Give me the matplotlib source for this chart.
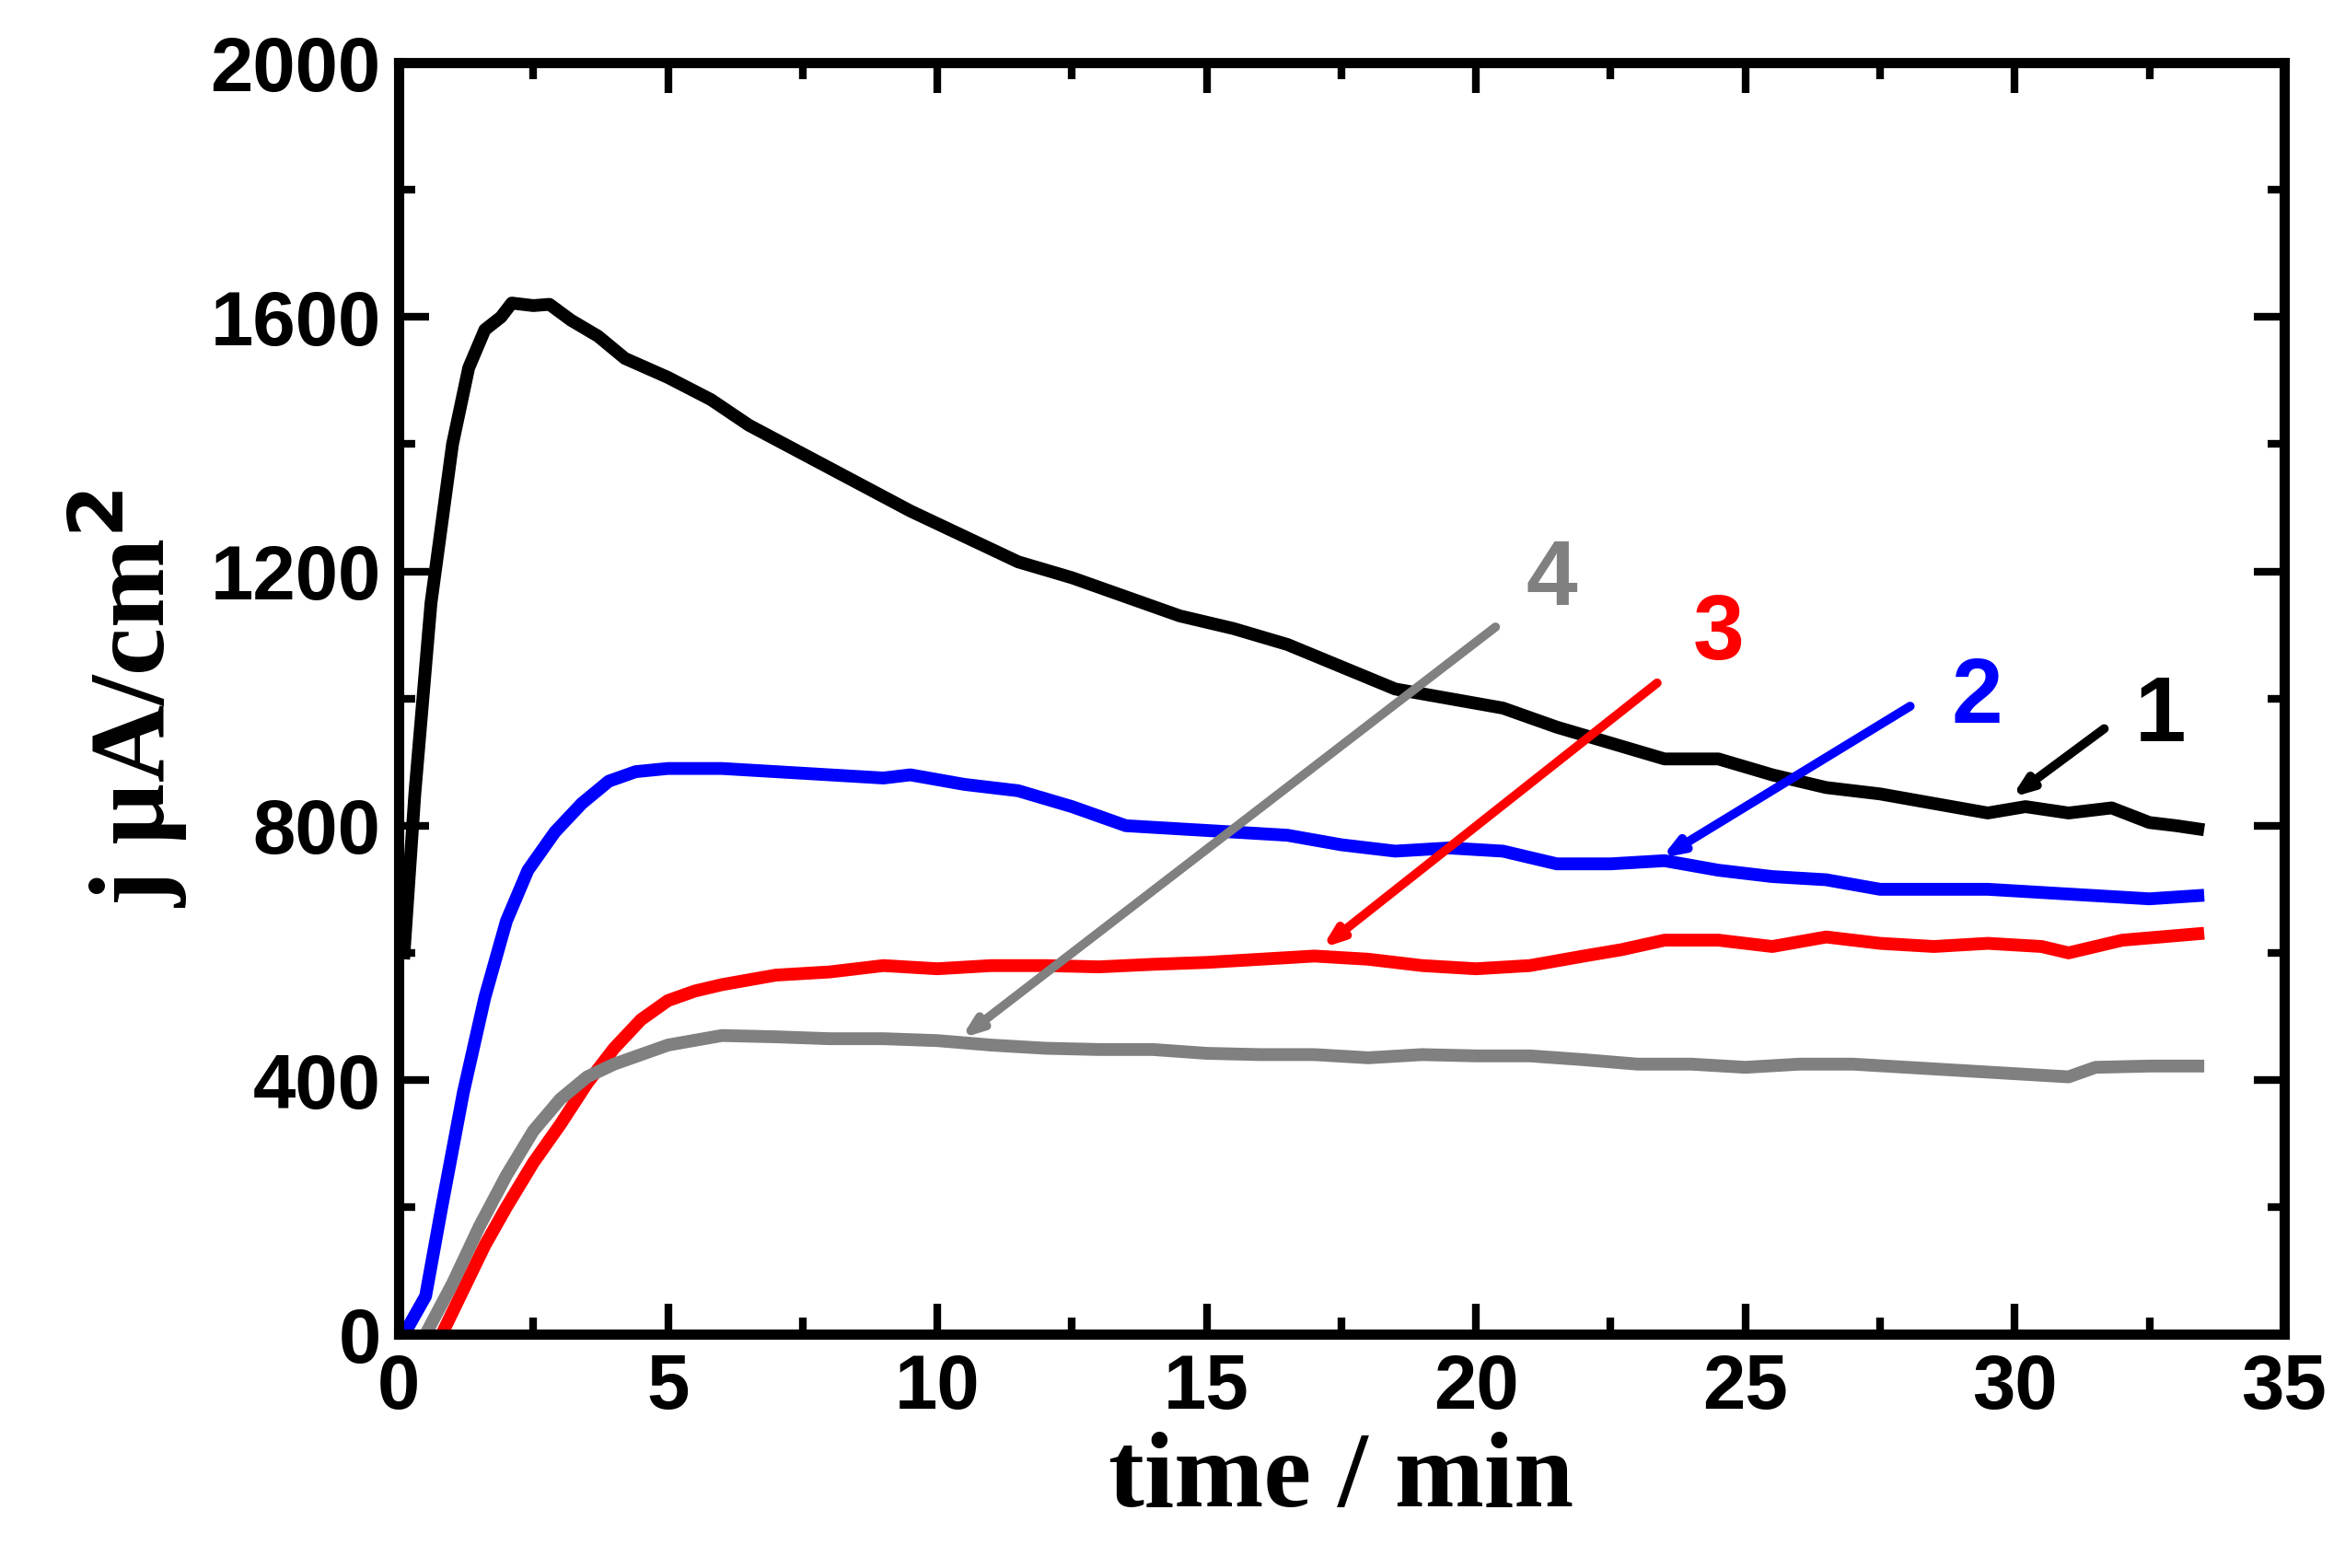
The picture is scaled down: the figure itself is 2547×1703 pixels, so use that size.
import numpy as np
import matplotlib.pyplot as plt
from matplotlib.ticker import MultipleLocator

# curve 1 (black)
t1 = [0.1, 0.3, 0.6, 1.0, 1.3, 1.6, 1.9, 2.1, 2.5, 2.8, 3.2, 3.7, 4.2, 5.0, 5.8, 6.5, 7.5, 8.5, 9.5, 10.5,
      11.5, 12.5, 13.5, 14.5, 15.5, 16.5, 17.5, 18.5, 19.5, 20.5, 21.5, 22.5, 23.5, 24.5, 25.5, 26.5,
      27.5, 28.5, 29.5, 30.2, 31.0, 31.8, 32.5, 33.0, 33.4]
j1 = [600, 850, 1150, 1400, 1520, 1580, 1600, 1622, 1618, 1620, 1595, 1570, 1535, 1505, 1470, 1430, 1385,
      1340, 1295, 1255, 1215, 1190, 1160, 1130, 1110, 1085, 1050, 1015, 1000, 985, 955, 930, 905, 905, 880,
      860, 850, 835, 820, 830, 820, 828, 805, 800, 795]
# curve 2 (blue)
t2 = [0.1, 0.5, 0.8, 1.2, 1.6, 2.0, 2.4, 2.9, 3.4, 3.9, 4.4, 5.0, 6.0, 7.0, 8.0, 9.0, 9.5, 10.5, 11.5,
      12.5, 13.5, 14.5, 15.5, 16.5, 17.5, 18.5, 19.5, 20.5, 21.5, 22.5, 23.5, 24.5, 25.5, 26.5, 27.5,
      28.5, 29.5, 30.5, 31.5, 32.5, 33.4]
j2 = [0, 60, 200, 380, 530, 650, 730, 790, 835, 870, 885, 890, 890, 885, 880, 875, 880, 865, 855, 830,
      800, 795, 790, 785, 770, 760, 765, 760, 740, 740, 745, 730, 720, 715, 700, 700, 700, 695, 690, 685, 690]
# curve 3 (red)
t3 = [0.8, 1.2, 1.6, 2.0, 2.5, 3.0, 3.5, 4.0, 4.5, 5.0, 5.5, 6.0, 7.0, 8.0, 9.0, 10.0, 11.0, 12.0, 13.0,
      14.0, 15.0, 16.0, 17.0, 18.0, 19.0, 20.0, 21.0, 22.0, 22.7, 23.5, 24.5, 25.5, 26.5, 27.5, 28.5,
      29.5, 30.5, 31.0, 32.0, 33.4]
j3 = [0, 70, 140, 200, 270, 330, 395, 450, 495, 525, 540, 550, 565, 570, 580, 575, 580, 580, 578, 582,
      585, 590, 595, 590, 580, 575, 580, 595, 605, 620, 620, 610, 625, 615, 610, 615, 610, 600, 620, 630]
# curve 4 (gray)
t4 = [0.5, 1.0, 1.5, 2.0, 2.5, 3.0, 3.5, 4.0, 4.5, 5.0, 6.0, 7.0, 8.0, 9.0, 10.0, 11.0, 12.0, 13.0, 14.0,
      15.0, 16.0, 17.0, 18.0, 19.0, 20.0, 21.0, 22.0, 23.0, 24.0, 25.0, 26.0, 27.0, 28.0, 29.0, 30.0,
      31.0, 31.5, 32.5, 33.4]
j4 = [0, 80, 170, 250, 320, 370, 405, 425, 440, 455, 470, 468, 465, 465, 462, 455, 450, 448, 448, 442,
      440, 440, 435, 440, 438, 438, 432, 425, 425, 420, 425, 425, 420, 415, 410, 405, 420, 422, 422]

# labels: (text, color, label xy, arrow start, arrow end)
notes = [("1", "black", (32.7, 970), (31.7, 955), (29.9, 842)),
         ("2", "blue", (29.3, 1000), (28.1, 990), (23.4, 747)),
         ("3", "red", (24.5, 1100), (23.4, 1027), (17.1, 605)),
         ("4", "gray", (21.4, 1185), (20.4, 1115), (10.4, 463))]

fig = plt.figure(figsize=(25.47, 17.03), dpi=100)
ax = fig.add_axes([0.170, 0.149, 0.804, 0.811])
ax.plot(t1, j1, color="black", lw=10)
ax.plot(t2, j2, color="blue", lw=10)
ax.plot(t3, j3, color="red", lw=10)
ax.plot(t4, j4, color="gray", lw=10)

for txt, c, lxy, a0, a1 in notes:
    ax.text(lxy[0], lxy[1], txt, color=c, fontsize=72, fontweight="bold",
            family="Liberation Sans", ha="center", va="center")
    ax.annotate("", xy=a1, xytext=a0,
                arrowprops=dict(arrowstyle="-|>,head_length=1.2,head_width=0.45", color=c, lw=7))

ax.set_xlim(0, 35)
ax.set_ylim(0, 2000)
ax.xaxis.set_major_locator(MultipleLocator(5))
ax.xaxis.set_minor_locator(MultipleLocator(2.5))
ax.yaxis.set_major_locator(MultipleLocator(400))
ax.yaxis.set_minor_locator(MultipleLocator(200))
ax.tick_params(which="both", direction="in", top=True, right=True, width=6)
ax.tick_params(which="major", length=24, pad=14)
ax.tick_params(which="minor", length=13)
for lab in ax.get_xticklabels() + ax.get_yticklabels():
    lab.set_family("Liberation Sans")
    lab.set_fontweight("bold")
    lab.set_fontsize(60)
for s in ax.spines.values():
    s.set_linewidth(8)

ax.set_xlabel("time / min", family="Liberation Serif", fontweight="bold", fontsize=84, labelpad=6)
ax.set_ylabel("j µA/cm$^{\\mathbf{2}}$", family="Liberation Serif", fontweight="bold", fontsize=84, labelpad=16)

fig.savefig("out.png", dpi=100)
